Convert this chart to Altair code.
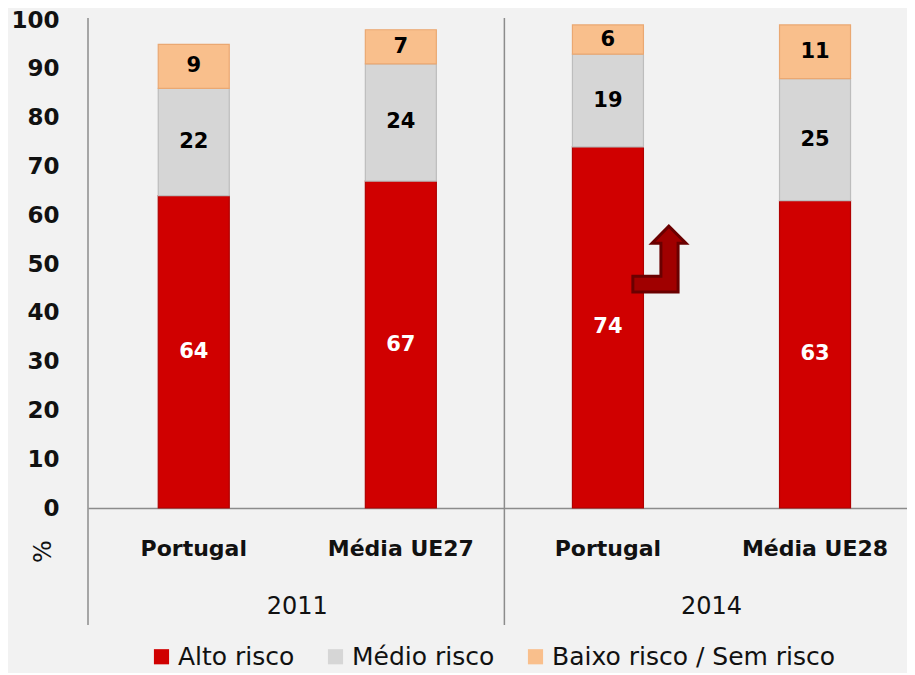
import altair as alt
import pandas as pd

# ---- data ----
categories = ["Portugal", "Média UE27", "Portugal", "Média UE28"]
years = ["2011", "2011", "2014", "2014"]
alto = [64, 67, 74, 63]
medio = [22, 24, 19, 25]
baixo = [9, 7, 6, 11]
series = ["Alto risco", "Médio risco", "Baixo risco / Sem risco"]
colors = ["#D00000", "#D6D6D6", "#F9BF8C"]
strokes = ["#B00000", "#BDBDBD", "#EAA872"]

idx = list(range(len(categories)))
rows = []
for i in idx:
    for k, (s, vals) in enumerate(zip(series, [alto, medio, baixo])):
        rows.append({"idx": i, "cat": categories[i], "year": years[i],
                     "serie": s, "order": k, "value": vals[i]})
df = pd.DataFrame(rows)

cat_df = pd.DataFrame({"idx": idx, "cat": categories})
year_names = ["2011", "2014"]
year_df = pd.DataFrame({"pos": [0.5, 2.5], "year": year_names})
sep_df = pd.DataFrame({"pos": [1.5]})
arrow_df = pd.DataFrame({"idx": [2], "y": [51]})

W, H = 819, 488
xscale = alt.Scale(domain=[-0.4865, 3.42], nice=False, zero=False)
yscale = alt.Scale(domain=[0, 100], nice=False)

base = alt.Chart(df).transform_stack(
    stack="value", groupby=["idx"], sort=[alt.SortField("order")], as_=["y0", "y1"]
).transform_calculate(mid="(datum.y0 + datum.y1) / 2")

bars = base.mark_bar(size=71, strokeWidth=1.2).encode(
    x=alt.X("idx:Q", scale=xscale,
            axis=alt.Axis(labels=False, ticks=False, grid=False, domain=True,
                          domainColor="#8C8C8C", domainWidth=1.5, title=None)),
    y=alt.Y("y0:Q", scale=yscale,
            axis=alt.Axis(values=list(range(0, 101, 10)), grid=False, ticks=False,
                          domain=False, labelFont="DejaVu Sans", labelFontWeight="bold",
                          labelFontSize=23, labelColor="#111111", labelPadding=29,
                          title="%", titleAngle=270, titleX=-33, titleY=531,
                          titleFont="DejaVu Sans", titleFontSize=24,
                          titleFontWeight="normal", titleColor="#111111")),
    y2="y1:Q",
    color=alt.Color("serie:N", scale=alt.Scale(domain=series, range=colors),
                    legend=alt.Legend(title=None, orient="none", direction="horizontal",
                                      legendX=61, legendY=624,
                                      symbolType="square", symbolSize=230,
                                      symbolStrokeWidth=0,
                                      labelFont="DejaVu Sans", labelLimit=500,
                                      labelFontSize=25, labelColor="#111111",
                                      labelOffset=4, columnPadding=28)),
    stroke=alt.Stroke("serie:N", scale=alt.Scale(domain=series, range=strokes), legend=None),
    order=alt.Order("order:Q"),
)

labels = base.mark_text(font="DejaVu Sans", fontWeight="bold", fontSize=21,
                        baseline="middle").encode(
    x=alt.X("idx:Q", scale=xscale),
    y=alt.Y("mid:Q", scale=yscale),
    text=alt.Text("value:Q"),
    color=alt.condition("datum.serie == 'Alto risco'", alt.value("white"), alt.value("black")),
)

cat_text = alt.Chart(cat_df).mark_text(font="DejaVu Sans", fontWeight="bold", fontSize=22,
                                       color="#111111", baseline="middle").encode(
    x=alt.X("idx:Q", scale=xscale), y=alt.value(H + 41), text="cat:N")

year_text = alt.Chart(year_df).mark_text(font="DejaVu Sans", fontSize=24,
                                         color="#111111", baseline="middle").encode(
    x=alt.X("pos:Q", scale=xscale), y=alt.value(H + 99), text="year:N")

sep = alt.Chart(sep_df).mark_rule(color="#8C8C8C", strokeWidth=1.5).encode(
    x=alt.X("pos:Q", scale=xscale), y=alt.value(-2), y2=alt.value(H + 117))

left = alt.Chart(sep_df).mark_rule(color="#8C8C8C", strokeWidth=1.5).encode(
    x=alt.value(0), y=alt.value(-2), y2=alt.value(H + 117))

arrow_path = ("M -0.79,0.52 L 0.06,0.52 L 0.06,-0.48 L -0.21,-0.48 L 0.3,-1 "
              "L 0.82,-0.48 L 0.58,-0.48 L 0.58,1 L -0.79,1 Z")
arrow = alt.Chart(arrow_df).mark_point(shape=arrow_path, filled=True, size=4356,
                                       fill="#A00000", stroke="#6A0000",
                                       strokeWidth=3, opacity=1, xOffset=51).encode(
    x=alt.X("idx:Q", scale=xscale), y=alt.Y("y:Q", scale=yscale))

chart = alt.layer(left, sep, bars, labels, cat_text, year_text, arrow).properties(
    width=W, height=H,
    autosize=alt.AutoSizeParams(type="none"),
    padding={"left": 80, "top": 12, "right": 0, "bottom": 165},
    background="#F2F2F2",
).configure_view(stroke=None)

chart.save("out.html", embed_options={"renderer": "svg", "actions": False})
